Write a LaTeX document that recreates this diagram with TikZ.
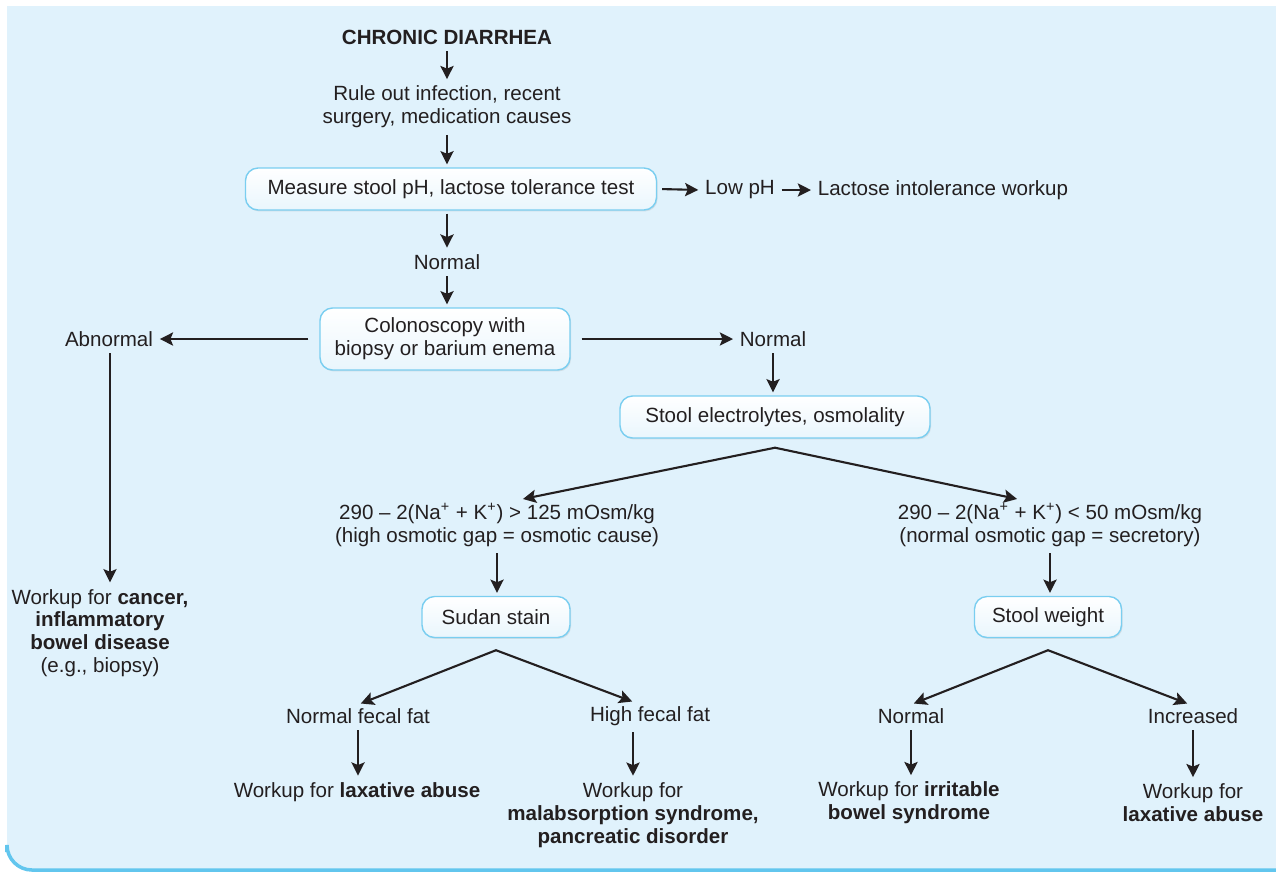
\documentclass[tikz,border=0pt]{standalone}
\usepackage{fontspec}
\setmainfont{Liberation Sans}
\usetikzlibrary{arrows.meta,shadows}
\definecolor{bgblue}{RGB}{224,242,252}
\definecolor{edgeblue}{RGB}{98,198,238}
\definecolor{boxline}{RGB}{122,206,240}
\definecolor{txt}{RGB}{35,31,32}

\begin{document}
\begin{tikzpicture}[x=0.2mm,y=-0.2mm,inner sep=2pt,
  font=\fontsize{11.7}{13}\selectfont,text=txt,
  every node/.style={align=center},
  box/.style={draw=boxline,line width=0.8pt,rounded corners=2.5mm,top color=white,bottom color=bgblue!70,minimum height=8.4mm,drop shadow={opacity=0.18,shadow xshift=0.6pt,shadow yshift=-0.8pt}},
  arr/.style={-{Stealth[length=7.5pt,width=7.5pt,inset=1.5pt]},line width=1.2pt,draw=txt,shorten >=0.6mm,shorten <=0.6mm},
  fork/.style={arr,shorten <=0pt,line cap=round}]

\useasboundingbox (0,0) rectangle (1276,875);

\begin{scope}
\clip (0,6) rectangle (1276,875);
\fill[bgblue,rounded corners=5mm] (7,-30) rectangle (1320,870);
\draw[edgeblue,line width=2pt,rounded corners=5mm] (7,852) -- (7,870) -- (1320,870);
\end{scope}

\node (chronic) at (447,37) {\textbf{CHRONIC DIARRHEA}};
\node (ruleout) at (447,107) {Rule out infection, recent\\surgery, medication causes};
\node[box,minimum width=82.2mm] (ph) at (451,189) {Measure stool pH, lactose tolerance test};
\node (lowph) at (740,190) {Low pH};
\node (lactose) at (943,190) {Lactose intolerance workup};
\node (normal1) at (447,262) {Normal};

\node[box,minimum width=50mm,minimum height=12.4mm] (colon) at (445,339) {Colonoscopy with\\biopsy or barium enema};
\node (abnormal) at (109,339) {Abnormal};
\node (normal2) at (773,339) {Normal};
\node[box,minimum width=62mm] (lytes) at (775,417) {Stool electrolytes, osmolality};

\node (gapL) at (497,525) {290 -- 2(Na\textsuperscript{+} + K\textsuperscript{+}) > 125 mOsm/kg\\(high osmotic gap = osmotic cause)};
\node (gapR) at (1050,525) {290 -- 2(Na\textsuperscript{+} + K\textsuperscript{+}) < 50 mOsm/kg\\(normal osmotic gap = secretory)};
\node[box,minimum width=29.6mm,minimum height=8.2mm] (sudan) at (496,617) {Sudan stain};
\node[box,minimum width=29.4mm,minimum height=8.2mm] (weight) at (1048,617) {Stool weight};

\node (normfat) at (358,716) {Normal fecal fat};
\node (highfat) at (650,716) {High fecal fat};
\node (normwt) at (911,716) {Normal};
\node (incwt) at (1193,716) {Increased};

\node (laxL) at (357,792) {Workup for \textbf{laxative abuse}};
\node (malab) at (633,815) {Workup for\\\textbf{malabsorption syndrome,}\\\textbf{pancreatic disorder}};
\node (ibs) at (909,803) {Workup for \textbf{irritable}\\\textbf{bowel syndrome}};
\node (laxR) at (1193,803) {Workup for\\\textbf{laxative abuse}};
\node (cancer) at (100,633) {Workup for \textbf{cancer,}\\\textbf{inflammatory}\\\textbf{bowel disease}\\(e.g., biopsy)};

\draw[arr] (chronic) -- (ruleout);
\draw[arr] (ruleout.south) -- (ruleout.south |- ph.north);
\draw[arr] ([xshift=0.4mm]ph.east) -- (lowph.west);
\draw[arr] (lowph.east) -- (lactose.west);
\draw[arr] (ruleout.south |- ph.south) -- (normal1.north);
\draw[arr] (normal1.south) -- (normal1.south |- colon.north);

\draw[arr] ([xshift=-1.6mm]colon.west) -- (abnormal.east);
\draw[arr] ([xshift=1.6mm]colon.east) -- (normal2.west);
\draw[arr] (normal2.south) -- (normal2.south |- lytes.north);
\draw[arr] (abnormal.south -| 110,0) -- (cancer.north -| 110,0);

\draw[fork] ([yshift=-1.8mm]lytes.south) -- ([xshift=4.6mm]gapL.north);
\draw[fork] ([yshift=-1.8mm]lytes.south) -- ([xshift=-6mm]gapR.north);
\draw[arr] (gapL.south) -- (gapL.south |- sudan.north);
\draw[arr] (gapR.south) -- (gapR.south |- weight.north);

\draw[fork] ([yshift=-2.4mm]sudan.south) -- (normfat.north);
\draw[fork] ([yshift=-2.4mm]sudan.south) -- ([xshift=-3mm]highfat.north);
\draw[fork] ([yshift=-2.4mm]weight.south) -- (normwt.north);
\draw[fork] ([yshift=-2.4mm]weight.south) -- ([xshift=-0.6mm]incwt.north);

\draw[arr] (normfat.south) -- (normfat.south |- laxL.north);
\draw[arr] (malab.north |- highfat.south) -- (malab.north);
\draw[arr] (normwt.south) -- (normwt.south |- ibs.north);
\draw[arr] (incwt.south) -- (incwt.south |- laxR.north);

\end{tikzpicture}
\end{document}
